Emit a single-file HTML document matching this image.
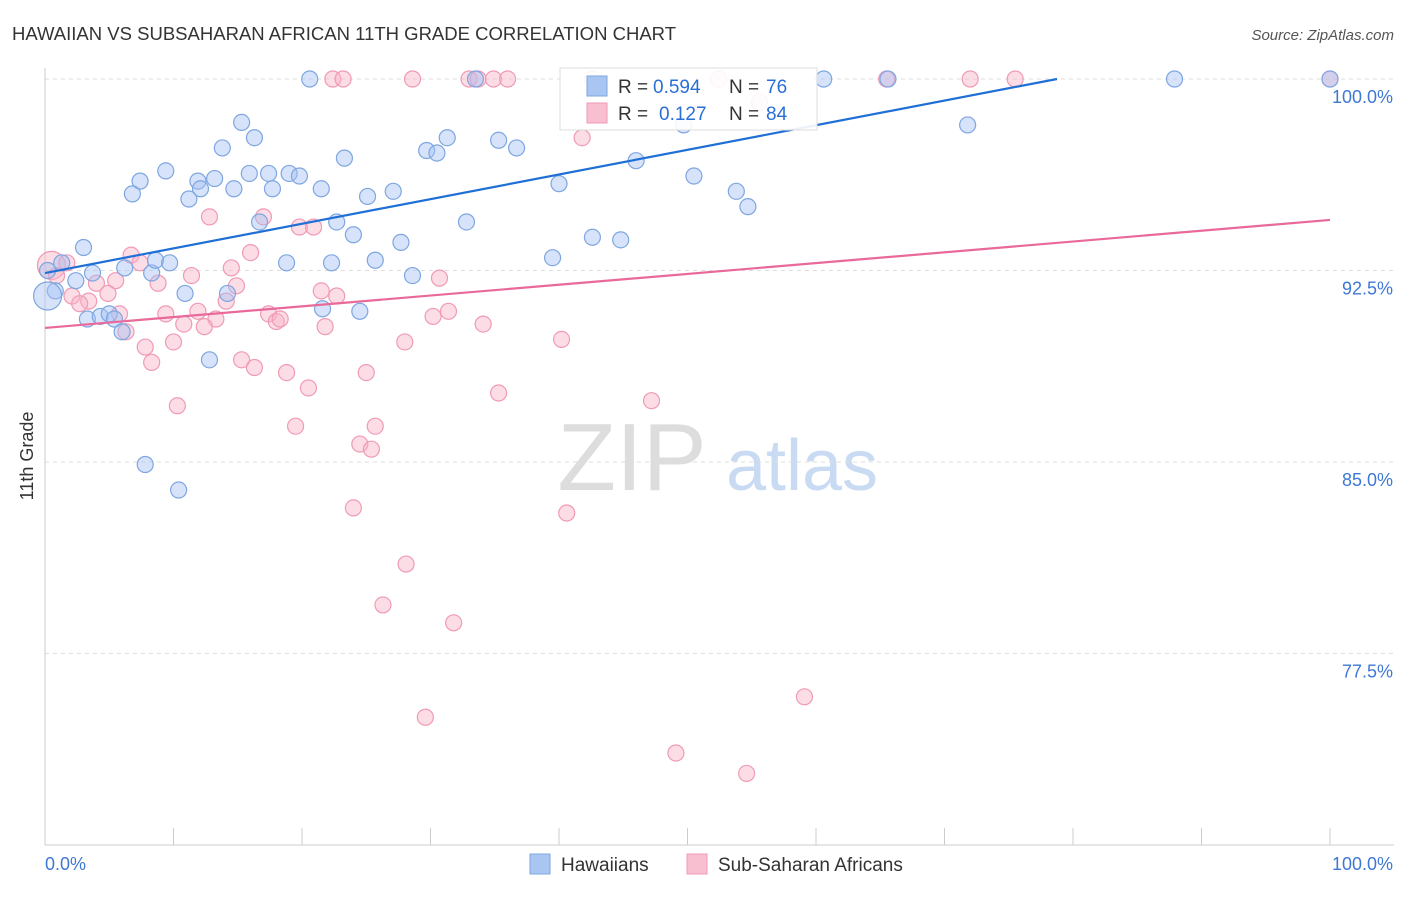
<!DOCTYPE html>
<html><head><meta charset="utf-8"><style>
body{margin:0;background:#fff;font-family:"Liberation Sans",sans-serif;}
svg text{font-family:"Liberation Sans",sans-serif;}
</style></head><body>
<svg id="chart" width="1406" height="892" viewBox="0 0 1406 892">
<text x="12" y="40" font-size="18" fill="#333" textLength="664" lengthAdjust="spacingAndGlyphs">HAWAIIAN VS SUBSAHARAN AFRICAN 11TH GRADE CORRELATION CHART</text>
<text x="1394" y="40" font-size="15" fill="#555" font-style="italic" text-anchor="end">Source: ZipAtlas.com</text>
<text x="33" y="456" font-size="18" fill="#333" text-anchor="middle" transform="rotate(-90 33 456)">11th Grade</text>
<g>
<text x="632" y="490" font-size="96" fill="#ddd" font-family="Liberation Serif" text-anchor="middle">ZIP</text>
<text x="802" y="490" font-size="72" fill="#c9daf3" text-anchor="middle">atlas</text>
</g>
<g id="grid"></g>
<g id="axes"></g>
<g id="marks"></g>
<g id="lines"></g>
<g>
<rect x="560" y="68" width="257" height="62" fill="#fff" fill-opacity="0.9" stroke="#ddd"/>
<rect x="587" y="76" width="20" height="20" fill="#a9c5f2" stroke="#7ea6e0"/>
<text x="618" y="93" font-size="19" fill="#333">R =</text>
<text x="653" y="93" font-size="19" fill="#2a6fd6">0.594</text>
<text x="729" y="93" font-size="19" fill="#333">N =</text>
<text x="766" y="93" font-size="19" fill="#2a6fd6">76</text>
<rect x="587" y="103" width="20" height="20" fill="#f8bfd0" stroke="#f09ab5"/>
<text x="618" y="120" font-size="19" fill="#333">R =</text>
<text x="659" y="120" font-size="19" fill="#2a6fd6">0.127</text>
<text x="729" y="120" font-size="19" fill="#333">N =</text>
<text x="766" y="120" font-size="19" fill="#2a6fd6">84</text>
</g>
<g>
<rect x="530" y="854" width="20" height="20" fill="#a9c5f2" stroke="#7ea6e0"/>
<text x="561" y="871" font-size="19" fill="#333">Hawaiians</text>
<rect x="687" y="854" width="20" height="20" fill="#f8bfd0" stroke="#f09ab5"/>
<text x="718" y="871" font-size="19" fill="#333">Sub-Saharan Africans</text>
</g>
</svg>
<script>
const yTicks=[100,92.5,85,77.5];
const yTickLabels=["100.0%","92.5%","85.0%","77.5%"];
const xTickLabels=["0.0%","100.0%"];
const blueX=[20.6,33.5,60.6,65.6,87.9,100,15.3,16.3,49.7,71.8,31.3,29.7,30.5,35.3,36.7,23.3,13.8,9.4,7.4,6.8,11.9,13.2,12.1,11.2,14.7,15.9,17.4,17.7,19.0,19.8,21.5,25.1,27.1,40.0,46.0,50.5,53.8,54.7,16.7,22.7,24.0,27.7,32.8,42.6,44.8,39.5,3.0,1.3,6.2,8.3,8.6,9.7,3.7,2.4,18.8,22.3,25.7,28.6,0.8,10.9,14.2,21.6,24.5,3.3,4.3,5.0,5.4,6.0,12.8,7.8,10.4,0.2,0.2];
const blueY=[100,100,100,100,100,100,98.3,97.7,98.2,98.2,97.7,97.2,97.1,97.6,97.3,96.9,97.3,96.4,96.0,95.5,96.0,96.1,95.7,95.3,95.7,96.3,96.3,95.7,96.3,96.2,95.7,95.4,95.6,95.9,96.8,96.2,95.6,95.0,94.4,94.4,93.9,93.6,94.4,93.8,93.7,93.0,93.4,92.8,92.6,92.4,92.9,92.8,92.4,92.1,92.8,92.8,92.9,92.3,91.7,91.6,91.6,91.0,90.9,90.6,90.7,90.8,90.6,90.1,89.0,84.9,83.9,92.5,91.5];
const pinkX=[22.4,23.2,28.6,33.0,33.7,34.9,36.0,42.6,52.4,65.5,72.0,75.5,100,55.6,41.8,12.8,17.0,19.8,20.9,16.0,6.7,7.4,0.5,1.7,11.4,14.5,30.7,0.9,4.0,5.5,8.8,14.9,2.1,4.9,3.4,2.7,14.1,21.5,22.7,9.4,11.9,13.3,17.4,18.0,18.3,21.8,30.2,31.4,34.1,10.8,12.4,5.8,6.3,7.8,10.0,8.3,15.3,16.3,18.8,28.0,40.2,20.5,25.0,35.3,47.2,10.3,19.5,24.5,25.7,25.4,24.0,40.6,28.1,26.3,31.8,29.6,59.1,49.1,54.6];
const pinkY=[100,100,100,100,100,100,100,100,100,100,100,100,100,99.1,97.7,94.6,94.6,94.2,94.2,93.2,93.1,92.8,92.7,92.8,92.3,92.6,92.2,92.3,92.0,92.1,92.0,91.9,91.5,91.6,91.3,91.2,91.3,91.7,91.5,90.8,90.9,90.6,90.8,90.5,90.6,90.3,90.7,90.9,90.4,90.4,90.3,90.8,90.1,89.5,89.7,88.9,89.0,88.7,88.5,89.7,89.8,87.9,88.5,87.7,87.4,87.2,86.4,85.7,86.4,85.5,83.2,83.0,81.0,79.4,78.7,75.0,75.8,73.6,72.8];
const blueTrend=[92.4,102.05];
const pinkTrend=[90.25,94.48];
const X0=45,X1=1330,Y100=79,PXPER=25.53;
function sx(v){return X0+(X1-X0)*v/100;}
function sy(v){return Y100+(100-v)*PXPER;}
const NS="http://www.w3.org/2000/svg";
function mk(tag,attrs,parent){const e=document.createElementNS(NS,tag);for(const k in attrs)e.setAttribute(k,attrs[k]);parent.appendChild(e);return e;}
const grid=document.getElementById('grid'),axes=document.getElementById('axes'),marks=document.getElementById('marks'),lines=document.getElementById('lines');
yTicks.forEach((t,i)=>{
 const l=mk('line',{x1:X0,x2:1394,y1:sy(t),y2:sy(t),stroke:'#ddd','stroke-dasharray':'4,4'},grid);
 
 
 const tx=mk('text',{x:1393,y:sy(t)+24,'font-size':18,fill:'#3f78d4','text-anchor':'end'},axes);
 tx.textContent=yTickLabels[i];
 
 
});
const ax=mk('line',{x1:X0,x2:1394,y1:845,y2:845,stroke:'#ccc'},axes);


const ay=mk('line',{x1:X0,x2:X0,y1:68,y2:845,stroke:'#ccc'},axes);


for(let i=0;i<=10;i++){
 const tk=mk('line',{x1:sx(i*10),x2:sx(i*10),y1:828,y2:845,stroke:'#ccc'},axes);
 
 
}
const xl0=mk('text',{x:45,y:870,'font-size':18,fill:'#3f78d4'},axes);xl0.textContent=xTickLabels[0];


const xl1=mk('text',{x:1393,y:870,'font-size':18,fill:'#3f78d4','text-anchor':'end'},axes);xl1.textContent=xTickLabels[1];


function pts(xs,ys,fill,stroke,name,bigIdx){
 xs.forEach((x,i)=>{
  const r=(i===bigIdx)?14:8;
  const c=mk('circle',{cx:sx(x),cy:sy(ys[i]),r:r,fill:fill,'fill-opacity':0.45,stroke:stroke,'stroke-width':1.2},marks);
  
  
 });
}
pts(pinkX,pinkY,'#f8b4c8','#f09ab5','point-subsaharan',22);
pts(blueX,blueY,'#a4c2f4','#7ea6e0','point-hawaiian',72);
function trend(t,color,name){
 let x2=100,y2=t[1];
 if(y2>100){x2=(100-t[0])/(t[1]-t[0])*100;y2=100;}
 const l=mk('line',{x1:sx(0),y1:sy(t[0]),x2:sx(x2),y2:sy(y2),stroke:color,'stroke-width':2.2},lines);
 
 
}
trend(blueTrend,'#1f6fd6','trendline-hawaiians');
trend(pinkTrend,'#e8699a','trendline-subsaharan');
</script>
</body></html>
